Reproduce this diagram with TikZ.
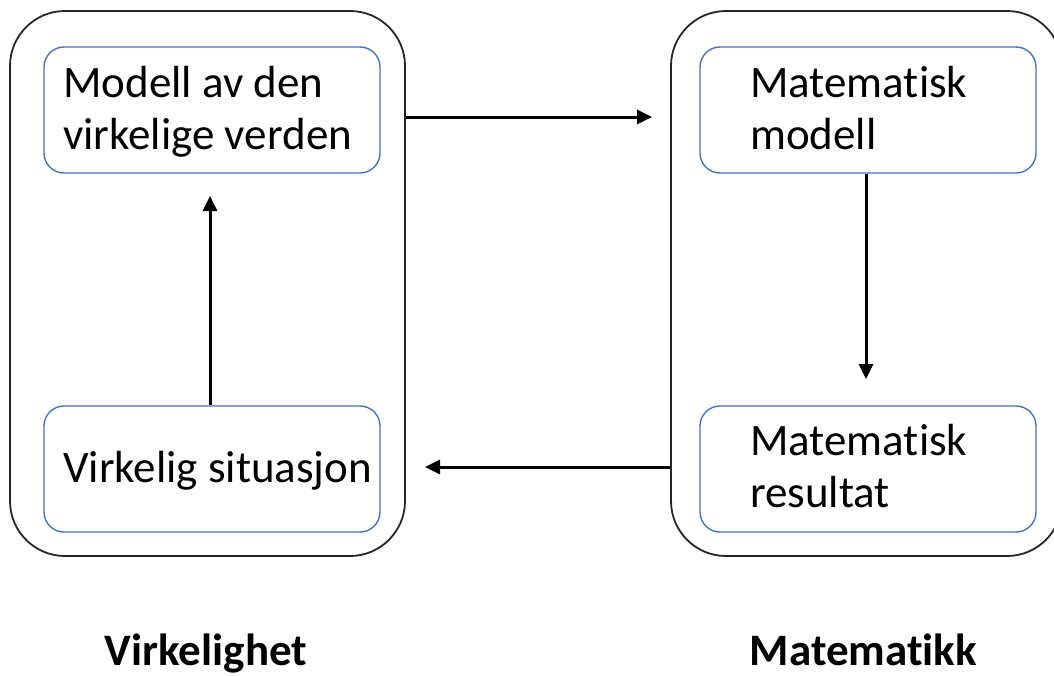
\documentclass[tikz,border=0pt]{standalone}
\usepackage{fontspec}
\setmainfont{Carlito}[Ligatures={NoCommon}]
\usetikzlibrary{arrows.meta}
\definecolor{boxblue}{HTML}{4472C4}
\begin{document}
\begin{tikzpicture}[x=1pt,y=-1pt,
  frame/.style={draw=black!85, line width=1.8pt, rounded corners=55pt,
    inner sep=0pt, minimum height=545pt},
  stage/.style={draw=boxblue, line width=1.4pt, rounded corners=20pt,
    inner sep=0pt, minimum width=336pt, minimum height=126pt},
  txt/.style={anchor=base west, inner sep=0pt, align=left,
    font=\fontsize{45}{52}\selectfont},
  title/.style={anchor=base, inner sep=0pt, font=\fontsize{45}{52}\selectfont\bfseries},
  arr/.style={line width=3pt, -{Triangle[length=15pt,width=14pt]}}]
\useasboundingbox (0,0) rectangle (1054,675);
\begin{scope}
\clip (0,0) rectangle (1054,675);
% outer frames
\node[frame, minimum width=395pt] (real) at (207.5,283.5) {};
\node[frame, minimum width=391pt] (math) at (866.5,283.5) {};
\end{scope}
% inner stages
\node[stage] (model) at (212,110) {};
\node[stage] (sit)   at (212,469) {};
\node[stage] (mmod)  at (868,110) {};
\node[stage] (mres)  at (868,469) {};
% stage texts (anchored at the baseline of the last line)
\node[txt] (tmodel) at (63,149) {Modell av den\\virkelige verden};
\node[txt] (tsit)   at (63,482) {Virkelig situasjon};
\node[txt] (tmmod)  at (750,149) {Matematisk\\modell};
\node[txt] (tmres)  at (750,507) {Matematisk\\resultat};
% titles
\node[title] (treal) at (206,665) {Virkelighet};
\node[title] (tmath) at (863.5,665) {Matematikk};
% connectors
\coordinate (e1) at (652,117);
\coordinate (e2) at (866,379);
\coordinate (e3) at (425,467);
\coordinate (e4) at (210,196);
\draw[arr] (real.east |- e1) -- (e1);
\draw[arr] (mmod.south -| e2) -- (e2);
\draw[arr] (math.west |- e3) -- (e3);
\draw[arr] (sit.north -| e4) -- (e4);
\end{tikzpicture}
\end{document}
